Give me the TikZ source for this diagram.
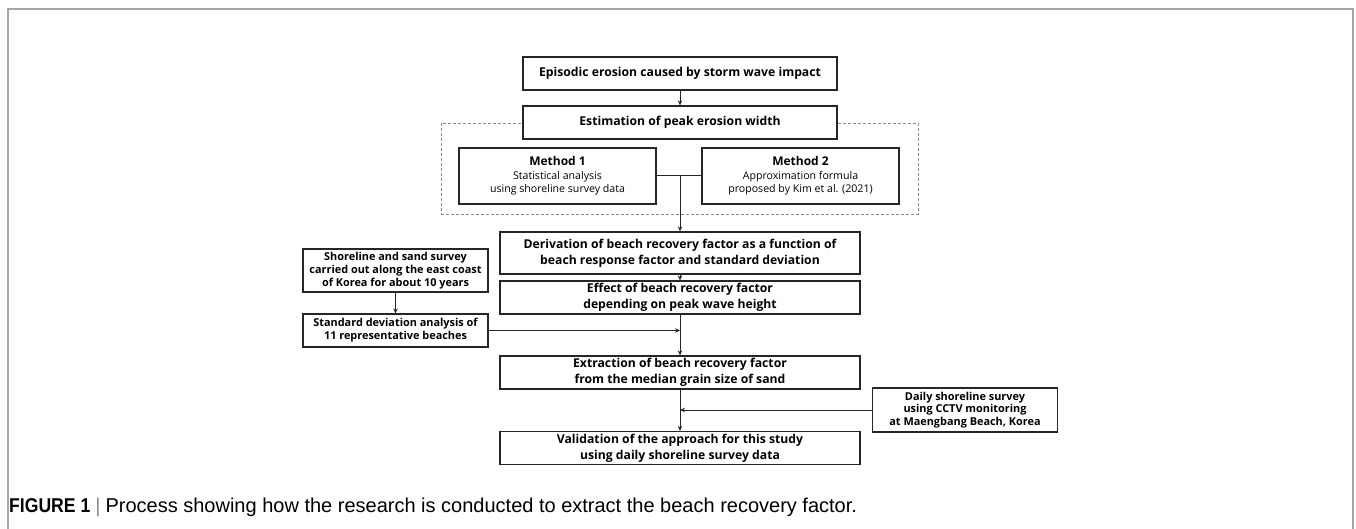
\documentclass[tikz,border=0pt]{standalone}
\usepackage{fontspec}
\setmainfont{Open Sans}
\newfontfamily\capfont[FakeStretch=1.0]{Liberation Sans}
\usetikzlibrary{arrows.meta,positioning,calc}
\definecolor{Ink}{HTML}{262626}
\definecolor{Rule}{HTML}{A6A6A6}
\definecolor{Dash}{HTML}{8C8C8C}
\tikzset{
  stage/.style={draw=Ink,fill=white,line width=1.3pt,minimum width=360pt,align=center,inner sep=2pt,font=\fontsize{12.2}{16}\selectfont\bfseries},
  method/.style={draw=Ink,fill=white,line width=1.3pt,minimum width=197pt,minimum height=56pt,align=center,inner sep=2pt,font=\fontsize{10.6}{13.5}\selectfont},
  side/.style={draw=Ink,fill=white,line width=1.1pt,minimum width=185pt,align=center,inner sep=2pt,font=\fontsize{10.9}{12.8}\selectfont\bfseries},
  group/.style={draw=Dash,dashed,line width=.9pt,dash pattern=on 3pt off 2pt},
  flow/.style={-{Stealth[length=5pt,width=4.5pt]},draw=Ink,line width=1pt},
  link/.style={draw=Ink,line width=1pt},
}
\begin{document}
\begin{tikzpicture}[x=1pt,y=-1pt]
  \useasboundingbox (0,0) rectangle (1356,529);
  \draw[Rule,line width=1.6pt] (8,529) |- (1353,9) -- (1353,529);

  \node[group,minimum width=477pt,minimum height=91pt] (grp) at (679.5,168.5) {};
  \node[stage,minimum width=314pt,minimum height=33pt] (storm) at (680,73.5) {Episodic erosion caused by storm wave impact};
  \node[stage,minimum width=314pt,minimum height=33pt] (peak) at (680,122.5) {Estimation of peak erosion width};
  \node[method] (m1) at (557.5,176) {{\fontsize{12}{15}\selectfont\bfseries Method 1}\\Statistical analysis\\using shoreline survey data};
  \node[method] (m2) at (800.5,176) {{\fontsize{12}{15}\selectfont\bfseries Method 2}\\Approximation formula\\proposed by Kim et al. (2021)};
  \node[stage,minimum height=42pt] (deriv) at (680,253) {Derivation of beach recovery factor as a function of\\beach response factor and standard deviation};
  \node[stage,minimum height=33pt] (effect) at (680,297.5) {Effect of beach recovery factor\\depending on peak wave height};
  \node[side,minimum height=43pt] (survey) at (395.5,270.5) {Shoreline and sand survey\\carried out along the east coast\\of Korea for about 10 years};
  \node[side,minimum height=33pt] (stdev) at (395.5,330.5) {Standard deviation analysis of\\11 representative beaches};
  \node[stage,minimum height=33pt] (extract) at (680,372.5) {Extraction of beach recovery factor\\from the median grain size of sand};
  \node[side,minimum height=44pt] (cctv) at (965,410) {Daily shoreline survey\\using CCTV monitoring\\at Maengbang Beach, Korea};
  \node[stage,minimum height=33pt] (valid) at (680,448) {Validation of the approach for this study\\using daily shoreline survey data};
  \node[anchor=west,inner sep=0pt,font=\capfont\fontsize{20}{22}\selectfont] (cap) at (9,507) {{\addfontfeature{FakeStretch=0.88}\bfseries FIGURE 1}\hspace{5pt}{\color{Dash}|}\hspace{5pt}Process showing how the research is conducted to extract the beach recovery factor.};

  \coordinate (join) at (m1 -| deriv.north);
  \draw[flow] (storm) -- (peak);
  \draw[link] (m1) -- (m2);
  \draw[flow] (join) -- (deriv);
  \draw[flow] (deriv) -- (effect);
  \draw[flow] (effect) -- (extract);
  \draw[flow] (survey) -- (stdev);
  \draw[flow] (stdev) -- (stdev -| effect.south);
  \draw[flow] (extract) -- (valid);
  \draw[flow] (cctv) -- (cctv -| extract.south);
\end{tikzpicture}
\end{document}
